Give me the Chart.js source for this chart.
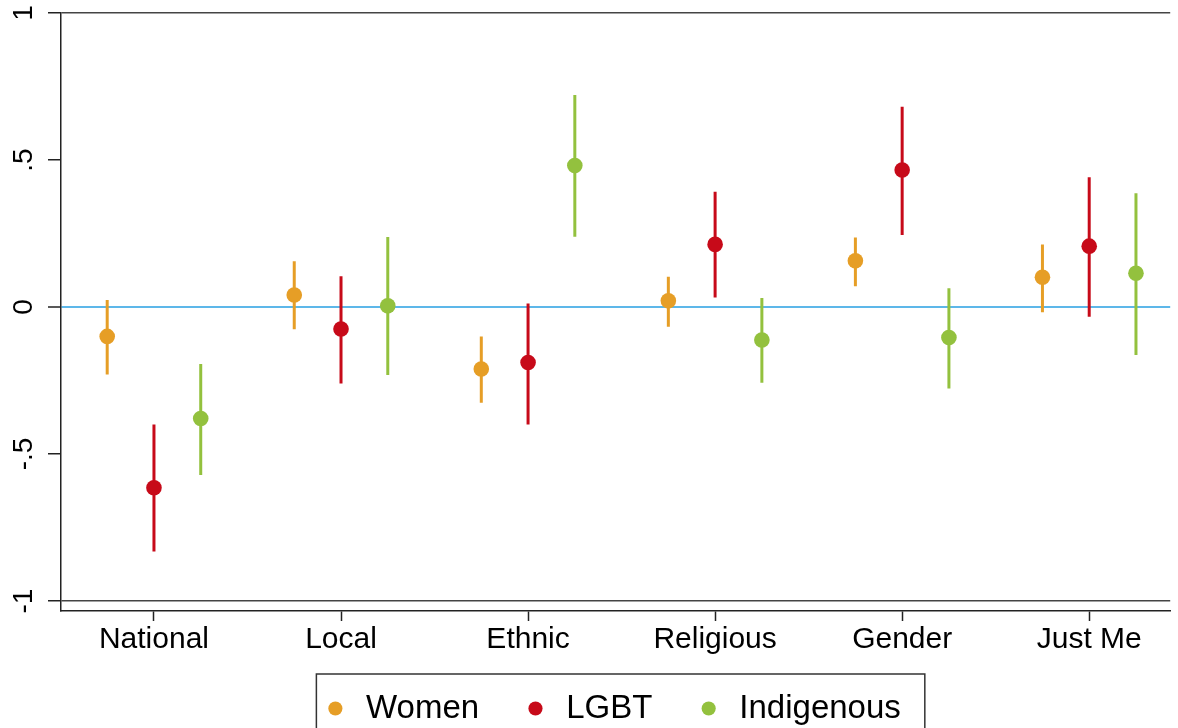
<!DOCTYPE html>
<html><head><meta charset="utf-8">
<script src="https://cdn.jsdelivr.net/npm/chart.js@4.4.1/dist/chart.umd.min.js"></script>
<style>html,body{margin:0;padding:0;background:#fff;}</style>
</head><body>
<canvas id="c" width="1178" height="728"></canvas>
<script>
// ---- data ----
const categories = ['National', 'Local', 'Ethnic', 'Religious', 'Gender', 'Just Me'];
const seriesNames = ['Women', 'LGBT', 'Indigenous'];
const seriesColors = ['#E69E26', '#C70A19', '#93C13E'];
const seriesOffsets = [-0.25, 0, 0.25];

const womenEst = [-0.100, 0.041, -0.211, 0.021, 0.157, 0.101];
const womenLo  = [-0.230, -0.076, -0.326, -0.067, 0.071, -0.018];
const womenHi  = [0.024, 0.156, -0.100, 0.103, 0.236, 0.213];

const lgbtEst = [-0.615, -0.075, -0.189, 0.213, 0.466, 0.207];
const lgbtLo  = [-0.832, -0.260, -0.400, 0.032, 0.245, -0.033];
const lgbtHi  = [-0.400, 0.105, 0.012, 0.392, 0.681, 0.441];

const indEst = [-0.379, 0.004, 0.481, -0.112, -0.104, 0.115];
const indLo  = [-0.571, -0.231, 0.239, -0.258, -0.277, -0.163];
const indHi  = [-0.194, 0.238, 0.721, 0.031, 0.064, 0.387];

const yTickValues = [-1, -0.5, 0, 0.5, 1];
const yTickLabels = ['-1', '-.5', '0', '.5', '1'];

const estimates = [womenEst, lgbtEst, indEst];
const lows = [womenLo, lgbtLo, indLo];
const highs = [womenHi, lgbtHi, indHi];

// ---- datasets ----
const datasets = [];
seriesNames.forEach((name, s) => {
  datasets.push({
    type: 'scatter',
    label: name,
    data: estimates[s].map((v, i) => ({ x: i + seriesOffsets[s], y: v })),
    backgroundColor: seriesColors[s],
    borderColor: seriesColors[s],
    pointBackgroundColor: seriesColors[s],
    pointBorderWidth: 0,
    borderWidth: 0,
    pointRadius: 7.8,
    pointHoverRadius: 7.8,
    pointStyle: 'circle',
    order: 0
  });
});
seriesNames.forEach((name, s) => {
  datasets.push({
    type: 'bar',
    label: name + ' CI',
    data: lows[s].map((lo, i) => ({ x: i + seriesOffsets[s], y: [lo, highs[s][i]] })),
    backgroundColor: seriesColors[s],
    borderWidth: 0,
    borderSkipped: false,
    grouped: false,
    maxBarThickness: 3,
    order: 1
  });
});

const FONT = '"Liberation Sans", Arial, Helvetica, sans-serif';

const yLabelPlugin = {
  id: 'yLabels',
  afterDraw(chart) {
    const s = chart.scales.y;
    const c = chart.ctx;
    c.save();
    c.font = '28px ' + FONT;
    c.fillStyle = '#000';
    c.textAlign = 'center';
    c.textBaseline = 'middle';
    yTickValues.forEach((v, i) => {
      const y = s.getPixelForValue(v);
      c.save();
      c.translate(24.5, y);
      c.rotate(-Math.PI / 2);
      c.fillText(yTickLabels[i], 0, 0);
      c.restore();
    });
    c.restore();
  }
};

const legendBoxPlugin = {
  id: 'legendBox',
  afterDraw(chart) {
    const lg = chart.legend;
    if (!lg || !lg.legendHitBoxes || !lg.legendHitBoxes.length) return;
    const hb = lg.legendHitBoxes;
    const last = hb[hb.length - 1];
    const left = hb[0].left - 14;
    const right = last.left + last.width + 24;
    const top = lg.top + 15;
    const c = chart.ctx;
    c.save();
    c.strokeStyle = '#333';
    c.lineWidth = 1.5;
    c.strokeRect(left, top, right - left, chart.height - top + 20);
    c.restore();
  }
};

new Chart(document.getElementById('c'), {
  type: 'scatter',
  data: { datasets },
  plugins: [yLabelPlugin, legendBoxPlugin],
  options: {
    responsive: false,
    animation: false,
    devicePixelRatio: 1,
    layout: { padding: { top: 13, right: 0, left: 0, bottom: -7 } },
    plugins: {
      tooltip: { enabled: false },
      legend: {
        display: true,
        position: 'bottom',
        fullSize: false,
        labels: {
          usePointStyle: true,
          boxWidth: 10,
          boxHeight: 10,
          padding: 33,
          color: '#000',
          font: { size: 33, family: FONT },
          generateLabels(chart) {
            const items = Chart.defaults.plugins.legend.labels.generateLabels(chart);
            return items.filter(it => it.datasetIndex < seriesNames.length).map((it, k) => {
              it.text = ' ' + it.text + (k < seriesNames.length - 1 ? '  ' : '');
              it.lineWidth = 0;
              return it;
            });
          }
        }
      }
    },
    scales: {
      x: {
        type: 'linear',
        min: -0.497,
        max: 5.433,
        offset: false,
        afterBuildTicks: (s) => { s.ticks = categories.map((c, i) => ({ value: i })); },
        ticks: {
          callback: (v) => categories[v],
          font: { size: 30, family: FONT },
          color: '#000',
          padding: 1,
          maxRotation: 0,
          minRotation: 0,
          autoSkip: false
        },
        grid: {
          offset: false,
          drawOnChartArea: false,
          drawTicks: true,
          tickLength: 10,
          tickColor: '#222',
          tickWidth: 1.5
        },
        border: { display: true, color: '#222', width: 1.5 }
      },
      y: {
        type: 'linear',
        min: -1.034,
        max: 1,
        afterBuildTicks: (s) => { s.ticks = yTickValues.map(v => ({ value: v })); },
        afterFit: (s) => { s.width = 61; },
        ticks: { display: false },
        grid: {
          drawOnChartArea: true,
          drawTicks: true,
          tickLength: 13,
          tickColor: '#222',
          tickWidth: 1.5,
          color: (ctx) => {
            const v = ctx.tick ? ctx.tick.value : null;
            if (v === 0) return '#5DB7E9';
            if (v === 1 || v === -1) return '#444';
            return 'rgba(0,0,0,0)';
          },
          lineWidth: (ctx) => {
            const v = ctx.tick ? ctx.tick.value : null;
            if (v === 0) return 2;
            return 1.5;
          }
        },
        border: { display: true, color: '#222', width: 1.5 }
      }
    }
  }
});
</script>
</body></html>
